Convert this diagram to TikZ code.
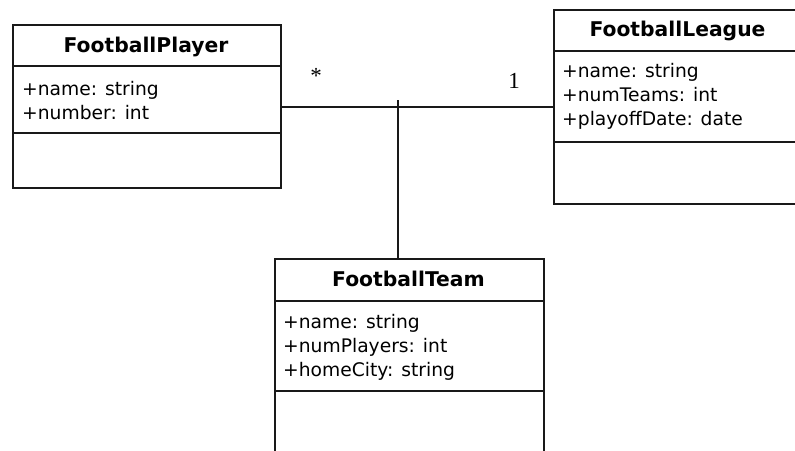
\documentclass[tikz,border=0pt]{standalone}
\usepackage{fontspec}
\setmainfont{DejaVu Sans}
\newfontfamily\multfont{Liberation Serif}
\begin{document}
\begin{tikzpicture}[x=1pt,y=-1pt,
  classbox/.style={draw=black!90, line width=1.7pt, fill=white, inner sep=0pt, anchor=north west},
  sepline/.style={draw=black!90, line width=1.7pt},
  assoc/.style={draw=black!90, line width=1.7pt},
  title/.style={anchor=base, inner sep=0pt, font=\fontsize{20.3}{22}\selectfont\bfseries},
  attr/.style={anchor=base west, inner sep=0pt, font=\fontsize{18.7}{22}\selectfont},
  mult/.style={inner sep=0pt, font=\fontsize{23}{26}\multfont}]
\useasboundingbox (0,0) rectangle (795,450);
\clip (0,0) rectangle (795,450);
\fill[white] (0,0) rectangle (795,450);
% classes
\node[classbox, minimum width=268pt, minimum height=163pt] (player) at (12,24) {};
\node[classbox, minimum width=252pt, minimum height=194pt] (league) at (553,9) {};
\node[classbox, minimum width=269pt, minimum height=220pt] (team) at (274,258) {};
% compartments
\draw[sepline] (12,66) -- (280,66);
\draw[sepline] (12,133) -- (280,133);
\draw[sepline] (553,51) -- (805,51);
\draw[sepline] (553,142) -- (805,142);
\draw[sepline] (274,301) -- (543,301);
\draw[sepline] (274,391) -- (543,391);
% texts
\node[title] (pt) at (146,52) {FootballPlayer};
\node[attr] (pa1) at (22,95) {+name: string};
\node[attr] (pa2) at (22,119) {+number: int};
\node[title] (lt) at (677.5,36) {FootballLeague};
\node[attr] (la1) at (562,77) {+name: string};
\node[attr] (la2) at (562,101) {+numTeams: int};
\node[attr] (la3) at (562,125) {+playoffDate: date};
\node[title] (tt) at (408.5,286) {FootballTeam};
\node[attr] (ta1) at (283,328) {+name: string};
\node[attr] (ta2) at (283,352) {+numPlayers: int};
\node[attr] (ta3) at (283,376) {+homeCity: string};
% association
\coordinate (j) at (398,107);
\coordinate (jtop) at (398,100);
\draw[assoc] (player.east |- j) -- (league.west |- j);
\draw[assoc] (jtop) -- (jtop |- team.north);
\node[mult] (m1) at (316,76) {*};
\node[mult] (m2) at (514,81) {1};
\end{tikzpicture}
\end{document}
